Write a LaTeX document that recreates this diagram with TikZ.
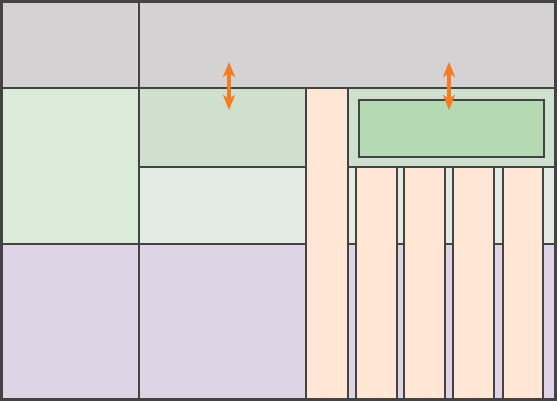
\documentclass[tikz,border=0pt]{standalone}
\usepackage{xcolor}
\usepackage{tikz}
\usetikzlibrary{arrows.meta}

\definecolor{bandgray}{HTML}{D4D2D3}
\definecolor{sidegreen}{HTML}{DBEBDA}
\definecolor{midgreen}{HTML}{D0E0CF}
\definecolor{palegreen}{HTML}{E4EBE4}
\definecolor{deepgreen}{HTML}{B5D9B3}
\definecolor{lilac}{HTML}{DFD4E5}
\definecolor{peach}{HTML}{FFE6D5}
\definecolor{edge}{HTML}{434343}
\definecolor{flow}{RGB}{244,124,34}

\begin{document}
\begin{tikzpicture}[
  x=1pt, y=-1pt,
  cell/.style={fill=#1, draw=edge, line width=2.6pt},
  cell/.default=bandgray,
  swap/.style={flow, line width=3.5pt, {Stealth[length=15pt,width=12pt,inset=4pt]}-{Stealth[length=15pt,width=12pt,inset=4pt]}},
]
  \useasboundingbox (0,0) rectangle (557,401);

  % ── top band ──
  \draw[cell=bandgray] (1.3,1.3) rectangle (139,88);
  \draw[cell=bandgray] (139,1.3) rectangle (555.7,88);

  % ── left block ──
  \draw[cell=sidegreen] (1.3,88) rectangle (139,244);
  \draw[cell=midgreen] (139,88) rectangle (306,167);
  \draw[cell=palegreen] (139,167) rectangle (306,244);
  \draw[cell=lilac] (1.3,244) rectangle (139,399.7);
  \draw[cell=lilac] (139,244) rectangle (306,399.7);

  % ── tall column ──
  \draw[cell=peach] (306,88) rectangle (348,399.7);

  % ── right block ──
  \draw[cell=midgreen] (348,88) rectangle (555.7,167);
  \draw[cell=deepgreen] (359,100) rectangle (544,157);
  \draw[cell=palegreen] (348,167) rectangle (555.7,244);
  \draw[cell=lilac] (348,244) rectangle (555.7,399.7);

  % ── narrow columns ──
  \draw[cell=peach] (356,167) rectangle (397,399.7);
  \draw[cell=peach] (404,167) rectangle (445,399.7);
  \draw[cell=peach] (453,167) rectangle (494,399.7);
  \draw[cell=peach] (503,167) rectangle (543,399.7);

  % ── moves ──
  \coordinate (lt) at (229,62);
  \coordinate (lb) at (229,110);
  \coordinate (rt) at (449,62);
  \coordinate (rb) at (449,110);
  \draw[swap] (lt) -- (lb);
  \draw[swap] (rt) -- (rb);
\end{tikzpicture}
\end{document}
